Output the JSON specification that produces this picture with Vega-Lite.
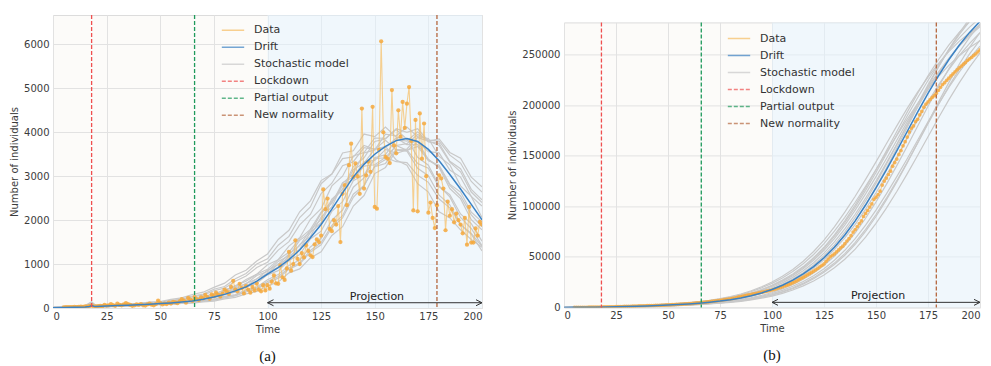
{
"$schema":"https://vega.github.io/schema/vega-lite/v6.json",
"padding":{"left":9,"top":13,"right":0,"bottom":0},
"spacing":22,
"datasets":{
"events":[{"t":18,"series":"Lockdown"},{"t":66,"series":"Partial output"},{"t":179,"series":"New normality"}],
"a_obs":[{"t":5,"v":15},{"t":6,"v":18},{"t":7,"v":20},{"t":8,"v":22},{"t":9,"v":18},{"t":10,"v":25},{"t":11,"v":20},{"t":12,"v":28},{"t":13,"v":30},{"t":14,"v":25},{"t":15,"v":35},{"t":16,"v":30},{"t":17,"v":40},{"t":18,"v":60},{"t":19,"v":30},{"t":20,"v":35},{"t":21,"v":45},{"t":22,"v":50},{"t":23,"v":40},{"t":24,"v":70},{"t":25,"v":55},{"t":26,"v":60},{"t":27,"v":90},{"t":28,"v":65},{"t":29,"v":50},{"t":30,"v":100},{"t":31,"v":70},{"t":32,"v":60},{"t":33,"v":80},{"t":34,"v":110},{"t":35,"v":90},{"t":36,"v":70},{"t":37,"v":50},{"t":38,"v":60},{"t":39,"v":80},{"t":40,"v":70},{"t":41,"v":90},{"t":42,"v":60},{"t":43,"v":55},{"t":44,"v":80},{"t":45,"v":100},{"t":46,"v":75},{"t":47,"v":60},{"t":48,"v":90},{"t":49,"v":170},{"t":50,"v":110},{"t":51,"v":80},{"t":52,"v":100},{"t":53,"v":90},{"t":54,"v":120},{"t":55,"v":100},{"t":56,"v":140},{"t":57,"v":130},{"t":58,"v":110},{"t":59,"v":150},{"t":60,"v":200},{"t":61,"v":170},{"t":62,"v":120},{"t":63,"v":230},{"t":64,"v":190},{"t":65,"v":160},{"t":66,"v":250},{"t":67,"v":200},{"t":68,"v":180},{"t":69,"v":240},{"t":70,"v":220},{"t":71,"v":300},{"t":72,"v":250},{"t":73,"v":210},{"t":74,"v":310},{"t":75,"v":270},{"t":76,"v":350},{"t":77,"v":300},{"t":78,"v":260},{"t":79,"v":330},{"t":80,"v":420},{"t":81,"v":380},{"t":82,"v":320},{"t":83,"v":480},{"t":84,"v":620},{"t":85,"v":420},{"t":86,"v":380},{"t":87,"v":550},{"t":88,"v":450},{"t":89,"v":330},{"t":90,"v":500},{"t":91,"v":420},{"t":92,"v":350},{"t":93,"v":480},{"t":94,"v":400},{"t":95,"v":560},{"t":96,"v":420},{"t":97,"v":380},{"t":98,"v":520},{"t":99,"v":400},{"t":100,"v":520},{"t":101,"v":440},{"t":102,"v":600},{"t":103,"v":740},{"t":104,"v":560},{"t":105,"v":550},{"t":106,"v":970},{"t":107,"v":700},{"t":108,"v":640},{"t":109,"v":900},{"t":110,"v":1280},{"t":111,"v":850},{"t":112,"v":1000},{"t":113,"v":1540},{"t":114,"v":1120},{"t":115,"v":1000},{"t":116,"v":1250},{"t":117,"v":1150},{"t":118,"v":1430},{"t":119,"v":1300},{"t":120,"v":1200},{"t":121,"v":1160},{"t":122,"v":1450},{"t":123,"v":1560},{"t":124,"v":1500},{"t":125,"v":1650},{"t":126,"v":2700},{"t":127,"v":2250},{"t":128,"v":2490},{"t":129,"v":1800},{"t":130,"v":1750},{"t":131,"v":2000},{"t":132,"v":1900},{"t":133,"v":2320},{"t":134,"v":1500},{"t":135,"v":2600},{"t":136,"v":2800},{"t":137,"v":2340},{"t":138,"v":3250},{"t":139,"v":3740},{"t":140,"v":2980},{"t":141,"v":3290},{"t":142,"v":3000},{"t":143,"v":2600},{"t":144,"v":4540},{"t":145,"v":2720},{"t":146,"v":3020},{"t":147,"v":3330},{"t":148,"v":3100},{"t":149,"v":4580},{"t":150,"v":2300},{"t":151,"v":2260},{"t":152,"v":3600},{"t":153,"v":6070},{"t":154,"v":4000},{"t":155,"v":3440},{"t":156,"v":3400},{"t":157,"v":3300},{"t":158,"v":4960},{"t":159,"v":3700},{"t":160,"v":3520},{"t":161,"v":4500},{"t":162,"v":3900},{"t":163,"v":4690},{"t":164,"v":4100},{"t":165,"v":4650},{"t":166,"v":5030},{"t":167,"v":3800},{"t":168,"v":2220},{"t":169,"v":4280},{"t":170,"v":2200},{"t":171,"v":4430},{"t":172,"v":3400},{"t":173,"v":4200},{"t":174,"v":3000},{"t":175,"v":2170},{"t":176,"v":2400},{"t":177,"v":2050},{"t":178,"v":1820},{"t":179,"v":2340},{"t":180,"v":3020},{"t":181,"v":2950},{"t":182,"v":2720},{"t":183,"v":1770},{"t":184,"v":2420},{"t":185,"v":2100},{"t":186,"v":2250},{"t":187,"v":1950},{"t":188,"v":2150},{"t":189,"v":2000},{"t":190,"v":1900},{"t":191,"v":1700},{"t":192,"v":2050},{"t":193,"v":1440},{"t":194,"v":2300},{"t":195,"v":1490},{"t":196,"v":1490},{"t":197,"v":1810},{"t":198,"v":1650},{"t":199,"v":1960},{"t":200,"v":1900}],
"a_drift":[{"t":0,"v":5},{"t":5,"v":10},{"t":10,"v":15},{"t":15,"v":25},{"t":17,"v":35},{"t":18,"v":55},{"t":19,"v":38},{"t":20,"v":35},{"t":25,"v":45},{"t":30,"v":55},{"t":35,"v":65},{"t":40,"v":75},{"t":45,"v":85},{"t":50,"v":100},{"t":55,"v":115},{"t":60,"v":135},{"t":65,"v":160},{"t":70,"v":200},{"t":75,"v":250},{"t":80,"v":310},{"t":85,"v":390},{"t":90,"v":480},{"t":95,"v":610},{"t":100,"v":770},{"t":105,"v":920},{"t":110,"v":1100},{"t":115,"v":1320},{"t":120,"v":1600},{"t":125,"v":1900},{"t":130,"v":2250},{"t":135,"v":2620},{"t":140,"v":2980},{"t":145,"v":3270},{"t":150,"v":3500},{"t":155,"v":3680},{"t":160,"v":3810},{"t":165,"v":3860},{"t":170,"v":3790},{"t":175,"v":3610},{"t":180,"v":3350},{"t":185,"v":3040},{"t":190,"v":2710},{"t":195,"v":2360},{"t":200,"v":2010}],
"a_sim":[
{"t":0,"s1":14,"s2":11,"s3":9,"s4":5,"s5":5,"s6":5,"s7":5,"s8":5,"s9":22,"s10":15,"s11":8,"s12":5,"s13":12,"s14":5},
{"t":5,"s1":26,"s2":14,"s3":15,"s4":12,"s5":9,"s6":6,"s7":5,"s8":5,"s9":35,"s10":28,"s11":12,"s12":5,"s13":20,"s14":9},
{"t":10,"s1":31,"s2":28,"s3":22,"s4":15,"s5":15,"s6":9,"s7":11,"s8":6,"s9":41,"s10":35,"s11":20,"s12":8,"s13":27,"s14":14},
{"t":15,"s1":47,"s2":34,"s3":35,"s4":28,"s5":23,"s6":16,"s7":13,"s8":10,"s9":55,"s10":49,"s11":30,"s12":12,"s13":38,"s14":22},
{"t":18,"s1":120,"s2":110,"s3":95,"s4":130,"s5":85,"s6":100,"s7":90,"s8":75,"s9":140,"s10":115,"s11":105,"s12":80,"s13":100,"s14":125},
{"t":20,"s1":50,"s2":48,"s3":40,"s4":36,"s5":35,"s6":27,"s7":25,"s8":16,"s9":60,"s10":56,"s11":42,"s12":20,"s13":46,"s14":33},
{"t":25,"s1":66,"s2":55,"s3":53,"s4":49,"s5":41,"s6":35,"s7":33,"s8":24,"s9":74,"s10":71,"s11":50,"s12":30,"s13":54,"s14":44},
{"t":30,"s1":70,"s2":70,"s3":58,"s4":56,"s5":54,"s6":48,"s7":45,"s8":36,"s9":78,"s10":76,"s11":60,"s12":40,"s13":62,"s14":55},
{"t":35,"s1":88,"s2":74,"s3":73,"s4":71,"s5":60,"s6":54,"s7":51,"s8":44,"s9":99,"s10":93,"s11":70,"s12":50,"s13":74,"s14":64},
{"t":40,"s1":93,"s2":92,"s3":76,"s4":76,"s5":74,"s6":69,"s7":65,"s8":57,"s9":105,"s10":101,"s11":82,"s12":62,"s13":84,"s14":78},
{"t":45,"s1":118,"s2":99,"s3":97,"s4":93,"s5":78,"s6":74,"s7":70,"s8":63,"s9":134,"s10":127,"s11":90,"s12":70,"s13":100,"s14":86},
{"t":50,"s1":127,"s2":124,"s3":103,"s4":101,"s5":99,"s6":91,"s7":85,"s8":78,"s9":146,"s10":137,"s11":110,"s12":85,"s13":112,"s14":104},
{"t":55,"s1":162,"s2":134,"s3":131,"s4":127,"s5":105,"s6":98,"s7":93,"s8":82,"s9":198,"s10":175,"s11":122,"s12":92,"s13":140,"s14":116},
{"t":60,"s1":188,"s2":172,"s3":143,"s4":137,"s5":133,"s6":122,"s7":115,"s8":104,"s9":230,"s10":203,"s11":150,"s12":112,"s13":165,"s14":142},
{"t":65,"s1":252,"s2":199,"s3":194,"s4":176,"s5":147,"s6":133,"s7":126,"s8":111,"s9":308,"s10":274,"s11":178,"s12":124,"s13":210,"s14":160},
{"t":70,"s1":292,"s2":268,"s3":224,"s4":203,"s5":197,"s6":170,"s7":160,"s8":140,"s9":360,"s10":315,"s11":226,"s12":155,"s13":250,"s14":210},
{"t":75,"s1":392,"s2":308,"s3":299,"s4":274,"s5":230,"s6":197,"s7":186,"s8":155,"s9":470,"s10":426,"s11":275,"s12":178,"s13":330,"s14":248},
{"t":80,"s1":452,"s2":418,"s3":350,"s4":315,"s5":306,"s6":265,"s7":250,"s8":208,"s9":565,"s10":489,"s11":352,"s12":232,"s13":390,"s14":330},
{"t":85,"s1":611,"s2":480,"s3":462,"s4":428,"s5":360,"s6":305,"s7":289,"s8":242,"s9":750,"s10":665,"s11":430,"s12":275,"s13":510,"s14":390},
{"t":90,"s1":728,"s2":650,"s3":548,"s4":488,"s5":472,"s6":412,"s7":388,"s8":322,"s9":860,"s10":785,"s11":560,"s12":365,"s13":610,"s14":512},
{"t":95,"s1":921,"s2":770,"s3":740,"s4":668,"s5":562,"s6":476,"s7":448,"s8":378,"s9":1070,"s10":1000,"s11":660,"s12":430,"s13":770,"s14":600},
{"t":100,"s1":1041,"s2":985,"s3":830,"s4":782,"s5":755,"s6":645,"s7":605,"s8":500,"s9":1230,"s10":1120,"s11":860,"s12":570,"s13":880,"s14":800},
{"t":105,"s1":1318,"s2":1100,"s3":1060,"s4":1005,"s5":850,"s6":760,"s7":715,"s8":590,"s9":1560,"s10":1430,"s11":990,"s12":680,"s13":1100,"s14":930},
{"t":110,"s1":1510,"s2":1410,"s3":1190,"s4":1120,"s5":1080,"s6":970,"s7":912,"s8":800,"s9":1770,"s10":1630,"s11":1230,"s12":880,"s13":1270,"s14":1180},
{"t":115,"s1":1892,"s2":1600,"s3":1540,"s4":1440,"s5":1215,"s6":1090,"s7":1025,"s8":890,"s9":2190,"s10":2060,"s11":1420,"s12":1000,"s13":1580,"s14":1340},
{"t":120,"s1":2130,"s2":2020,"s3":1720,"s4":1630,"s5":1570,"s6":1390,"s7":1310,"s8":1140,"s9":2440,"s10":2300,"s11":1780,"s12":1270,"s13":1790,"s14":1720},
{"t":125,"s1":2605,"s2":2260,"s3":2160,"s4":2070,"s5":1750,"s6":1580,"s7":1490,"s8":1280,"s9":2900,"s10":2830,"s11":2010,"s12":1440,"s13":2180,"s14":1940},
{"t":130,"s1":2840,"s2":2780,"s3":2380,"s4":2300,"s5":2200,"s6":2000,"s7":1880,"s8":1650,"s9":3050,"s10":3050,"s11":2480,"s12":1830,"s13":2420,"s14":2440},
{"t":135,"s1":3240,"s2":3000,"s3":2850,"s4":2840,"s5":2420,"s6":2230,"s7":2100,"s8":1850,"s9":3400,"s10":3530,"s11":2700,"s12":2050,"s13":2780,"s14":2700},
{"t":140,"s1":3330,"s2":3460,"s3":2980,"s4":3060,"s5":2900,"s6":2750,"s7":2590,"s8":2320,"s9":3440,"s10":3580,"s11":3150,"s12":2520,"s13":2930,"s14":3220},
{"t":145,"s1":3650,"s2":3540,"s3":3330,"s4":3530,"s5":3030,"s6":2960,"s7":2790,"s8":2560,"s9":3700,"s10":3960,"s11":3300,"s12":2780,"s13":3230,"s14":3420},
{"t":150,"s1":3610,"s2":3870,"s3":3360,"s4":3600,"s5":3400,"s6":3420,"s7":3220,"s8":3060,"s9":3610,"s10":3900,"s11":3620,"s12":3230,"s13":3260,"s14":3790},
{"t":155,"s1":3820,"s2":3860,"s3":3610,"s4":3960,"s5":3420,"s6":3490,"s7":3290,"s8":3200,"s9":3680,"s10":4120,"s11":3650,"s12":3380,"s13":3430,"s14":3850},
{"t":160,"s1":3600,"s2":4060,"s3":3520,"s4":3920,"s5":3700,"s6":3840,"s7":3610,"s8":3580,"s9":3370,"s10":3890,"s11":3870,"s12":3700,"s13":3330,"s14":4080},
{"t":165,"s1":3570,"s2":3840,"s3":3600,"s4":4120,"s5":3590,"s6":3800,"s7":3580,"s8":3620,"s9":3250,"s10":3850,"s11":3720,"s12":3740,"s13":3310,"s14":4000},
{"t":170,"s1":3180,"s2":3790,"s3":3290,"s4":3900,"s5":3680,"s6":4010,"s7":3780,"s8":3880,"s9":2830,"s10":3430,"s11":3720,"s12":3950,"s13":3020,"s14":4080},
{"t":175,"s1":3010,"s2":3380,"s3":3180,"s4":3860,"s5":3350,"s6":3780,"s7":3560,"s8":3800,"s9":2640,"s10":3250,"s11":3380,"s12":3820,"s13":2860,"s14":3800},
{"t":180,"s1":2570,"s2":3200,"s3":2760,"s4":3450,"s5":3250,"s6":3750,"s7":3530,"s8":3850,"s9":2190,"s10":2780,"s11":3220,"s12":3800,"s13":2480,"s14":3700},
{"t":185,"s1":2350,"s2":2720,"s3":2580,"s4":3260,"s5":2820,"s6":3340,"s7":3140,"s8":3540,"s9":2050,"s10":2530,"s11":2790,"s12":3480,"s13":2280,"s14":3320},
{"t":190,"s1":1890,"s2":2490,"s3":2140,"s4":2780,"s5":2640,"s6":3170,"s7":2980,"s8":3410,"s9":1780,"s10":2060,"s11":2550,"s12":3300,"s13":1900,"s14":3100},
{"t":195,"s1":1680,"s2":2010,"s3":1920,"s4":2540,"s5":2180,"s6":2700,"s7":2540,"s8":2980,"s9":1560,"s10":1810,"s11":2120,"s12":2880,"s13":1700,"s14":2640},
{"t":200,"s1":1300,"s2":1780,"s3":1520,"s4":2060,"s5":1960,"s6":2460,"s7":2320,"s8":2760,"s9":1380,"s10":1420,"s11":1850,"s12":2640,"s13":1400,"s14":2400}],
"b_obs":[{"t":5,"v":20},{"t":6,"v":35},{"t":7,"v":55},{"t":8,"v":75},{"t":9,"v":95},{"t":10,"v":120},{"t":11,"v":140},{"t":12,"v":170},{"t":13,"v":195},{"t":14,"v":220},{"t":15,"v":250},{"t":16,"v":285},{"t":17,"v":320},{"t":18,"v":380},{"t":19,"v":400},{"t":20,"v":420},{"t":21,"v":465},{"t":22,"v":510},{"t":23,"v":555},{"t":24,"v":610},{"t":25,"v":650},{"t":26,"v":710},{"t":27,"v":790},{"t":28,"v":850},{"t":29,"v":900},{"t":30,"v":960},{"t":31,"v":1030},{"t":32,"v":1100},{"t":33,"v":1170},{"t":34,"v":1260},{"t":35,"v":1330},{"t":36,"v":1400},{"t":37,"v":1450},{"t":38,"v":1510},{"t":39,"v":1590},{"t":40,"v":1670},{"t":41,"v":1750},{"t":42,"v":1810},{"t":43,"v":1860},{"t":44,"v":1940},{"t":45,"v":2040},{"t":46,"v":2110},{"t":47,"v":2170},{"t":48,"v":2260},{"t":49,"v":2430},{"t":50,"v":2520},{"t":51,"v":2600},{"t":52,"v":2700},{"t":53,"v":2790},{"t":54,"v":2910},{"t":55,"v":3040},{"t":56,"v":3150},{"t":57,"v":3280},{"t":58,"v":3390},{"t":59,"v":3520},{"t":60,"v":3680},{"t":61,"v":3850},{"t":62,"v":3970},{"t":63,"v":4200},{"t":64,"v":4390},{"t":65,"v":4570},{"t":66,"v":4800},{"t":67,"v":5000},{"t":68,"v":5180},{"t":69,"v":5420},{"t":70,"v":5640},{"t":71,"v":5940},{"t":72,"v":6190},{"t":73,"v":6400},{"t":74,"v":6710},{"t":75,"v":6950},{"t":76,"v":7300},{"t":77,"v":7600},{"t":78,"v":7860},{"t":79,"v":8190},{"t":80,"v":8500},{"t":81,"v":8900},{"t":82,"v":9250},{"t":83,"v":9700},{"t":84,"v":10300},{"t":85,"v":10700},{"t":86,"v":11100},{"t":87,"v":11650},{"t":88,"v":12100},{"t":89,"v":12450},{"t":90,"v":12900},{"t":91,"v":13300},{"t":92,"v":13650},{"t":93,"v":14100},{"t":94,"v":14500},{"t":95,"v":15000},{"t":96,"v":15400},{"t":97,"v":15800},{"t":98,"v":16300},{"t":99,"v":16700},{"t":100,"v":17300},{"t":101,"v":17800},{"t":102,"v":18400},{"t":103,"v":19100},{"t":104,"v":19700},{"t":105,"v":20400},{"t":106,"v":21200},{"t":107,"v":21900},{"t":108,"v":22600},{"t":109,"v":23500},{"t":110,"v":24400},{"t":111,"v":25300},{"t":112,"v":26300},{"t":113,"v":27500},{"t":114,"v":28600},{"t":115,"v":29800},{"t":116,"v":31000},{"t":117,"v":32200},{"t":118,"v":33300},{"t":119,"v":34600},{"t":120,"v":35900},{"t":121,"v":37200},{"t":122,"v":38600},{"t":123,"v":40100},{"t":124,"v":41500},{"t":125,"v":43000},{"t":126,"v":45600},{"t":127,"v":47800},{"t":128,"v":50000},{"t":129,"v":51600},{"t":130,"v":53000},{"t":131,"v":55000},{"t":132,"v":56900},{"t":133,"v":59000},{"t":134,"v":60600},{"t":135,"v":63000},{"t":136,"v":65700},{"t":137,"v":68000},{"t":138,"v":71000},{"t":139,"v":74500},{"t":140,"v":77000},{"t":141,"v":80000},{"t":142,"v":83000},{"t":143,"v":85500},{"t":144,"v":90000},{"t":145,"v":93000},{"t":146,"v":96000},{"t":147,"v":99300},{"t":148,"v":102400},{"t":149,"v":107000},{"t":150,"v":109000},{"t":151,"v":111500},{"t":152,"v":115000},{"t":153,"v":121000},{"t":154,"v":125000},{"t":155,"v":128000},{"t":156,"v":131500},{"t":157,"v":134800},{"t":158,"v":139700},{"t":159,"v":143300},{"t":160,"v":146800},{"t":161,"v":151300},{"t":162,"v":155200},{"t":163,"v":159900},{"t":164,"v":164000},{"t":165,"v":168600},{"t":166,"v":173600},{"t":167,"v":177400},{"t":168,"v":179600},{"t":169,"v":183900},{"t":170,"v":186100},{"t":171,"v":190500},{"t":172,"v":193900},{"t":173,"v":198100},{"t":174,"v":201100},{"t":175,"v":203300},{"t":176,"v":205700},{"t":177,"v":207700},{"t":178,"v":209500},{"t":179,"v":211800},{"t":180,"v":214800},{"t":181,"v":217800},{"t":182,"v":220500},{"t":183,"v":222300},{"t":184,"v":224700},{"t":185,"v":226800},{"t":186,"v":229000},{"t":187,"v":231000},{"t":188,"v":233100},{"t":189,"v":235100},{"t":190,"v":237000},{"t":191,"v":238700},{"t":192,"v":240700},{"t":193,"v":242200},{"t":194,"v":244500},{"t":195,"v":246000},{"t":196,"v":247500},{"t":197,"v":249300},{"t":198,"v":250900},{"t":199,"v":252900},{"t":200,"v":254800}],
"b_drift":[{"t":0,"v":0},{"t":5,"v":38},{"t":10,"v":100},{"t":15,"v":200},{"t":20,"v":350},{"t":25,"v":550},{"t":30,"v":800},{"t":35,"v":1100},{"t":40,"v":1450},{"t":45,"v":1850},{"t":50,"v":2312},{"t":55,"v":2850},{"t":60,"v":3475},{"t":65,"v":4212},{"t":70,"v":5112},{"t":75,"v":6237},{"t":80,"v":7637},{"t":85,"v":9387},{"t":90,"v":11562},{"t":95,"v":14287},{"t":100,"v":17737},{"t":105,"v":21962},{"t":110,"v":27012},{"t":115,"v":33062},{"t":120,"v":40362},{"t":125,"v":49112},{"t":130,"v":59487},{"t":135,"v":71662},{"t":140,"v":85662},{"t":145,"v":101287},{"t":150,"v":118212},{"t":155,"v":136162},{"t":160,"v":154887},{"t":165,"v":174062},{"t":170,"v":193187},{"t":175,"v":211687},{"t":180,"v":229087},{"t":185,"v":245062},{"t":190,"v":259437},{"t":195,"v":272112},{"t":200,"v":283037}],
"b_sim":[
{"t":0,"g1":93,"g2":38,"g3":36,"g4":0,"g5":0,"g6":0,"g7":0,"g8":0,"g9":37,"g10":0,"g11":22,"g12":0,"g13":88,"g14":0},
{"t":5,"g1":186,"g2":100,"g3":95,"g4":40,"g5":36,"g6":0,"g7":0,"g8":0,"g9":98,"g10":0,"g11":73,"g12":0,"g13":176,"g14":24},
{"t":10,"g1":326,"g2":200,"g3":190,"g4":104,"g5":96,"g6":39,"g7":36,"g8":0,"g9":196,"g10":0,"g11":155,"g12":15,"g13":308,"g14":80},
{"t":15,"g1":512,"g2":350,"g3":333,"g4":208,"g5":192,"g6":103,"g7":95,"g8":37,"g9":343,"g10":40,"g11":281,"g12":63,"g13":484,"g14":171},
{"t":20,"g1":744,"g2":550,"g3":523,"g4":364,"g5":336,"g6":206,"g7":190,"g8":97,"g9":539,"g10":105,"g11":456,"g12":140,"g13":704,"g14":310},
{"t":25,"g1":1023,"g2":800,"g3":760,"g4":572,"g5":528,"g6":361,"g7":333,"g8":194,"g9":784,"g10":210,"g11":679,"g12":260,"g13":968,"g14":503},
{"t":30,"g1":1349,"g2":1100,"g3":1045,"g4":832,"g5":768,"g6":567,"g7":523,"g8":340,"g9":1078,"g10":368,"g11":951,"g12":430,"g13":1276,"g14":749},
{"t":35,"g1":1721,"g2":1450,"g3":1378,"g4":1144,"g5":1056,"g6":824,"g7":760,"g8":534,"g9":1421,"g10":578,"g11":1271,"g12":650,"g13":1628,"g14":1049},
{"t":40,"g1":2150,"g2":1850,"g3":1758,"g4":1508,"g5":1392,"g6":1133,"g7":1045,"g8":776,"g9":1813,"g10":840,"g11":1639,"g12":920,"g13":2035,"g14":1402},
{"t":45,"g1":2651,"g2":2312,"g3":2196,"g4":1924,"g5":1776,"g6":1494,"g7":1378,"g8":1067,"g9":2266,"g10":1155,"g11":2063,"g12":1240,"g13":2508,"g14":1808},
{"t":50,"g1":3232,"g2":2850,"g3":2708,"g4":2404,"g5":2220,"g6":1906,"g7":1758,"g8":1407,"g9":2793,"g10":1523,"g11":2556,"g12":1610,"g13":3058,"g14":2276},
{"t":55,"g1":3917,"g2":3475,"g3":3301,"g4":2964,"g5":2736,"g6":2381,"g7":2196,"g8":1795,"g9":3406,"g10":1943,"g11":3128,"g12":2035,"g13":3707,"g14":2819},
{"t":60,"g1":4754,"g2":4212,"g3":4001,"g4":3614,"g5":3336,"g6":2936,"g7":2708,"g8":2243,"g9":4128,"g10":2428,"g11":3799,"g12":2527,"g13":4499,"g14":3451},
{"t":65,"g1":5800,"g2":5112,"g3":4856,"g4":4380,"g5":4044,"g6":3579,"g7":3301,"g8":2765,"g9":5010,"g10":2993,"g11":4609,"g12":3100,"g13":5489,"g14":4191},
{"t":70,"g1":7102,"g2":6237,"g3":5925,"g4":5316,"g5":4908,"g6":4338,"g7":4001,"g8":3371,"g9":6112,"g10":3649,"g11":5613,"g12":3770,"g13":6721,"g14":5085},
{"t":75,"g1":8730,"g2":7637,"g3":7255,"g4":6486,"g5":5988,"g6":5265,"g7":4856,"g8":4086,"g9":7484,"g10":4423,"g11":6865,"g12":4572,"g13":8261,"g14":6192},
{"t":80,"g1":10753,"g2":9387,"g3":8918,"g4":7942,"g5":7332,"g6":6424,"g7":5925,"g8":4959,"g9":9199,"g10":5368,"g11":8426,"g12":5562,"g13":10175,"g14":7572},
{"t":85,"g1":13287,"g2":11562,"g3":10984,"g4":9762,"g5":9012,"g6":7866,"g7":7255,"g8":6050,"g9":11331,"g10":6549,"g11":10371,"g12":6797,"g13":12573,"g14":9295},
{"t":90,"g1":16495,"g2":14287,"g3":13573,"g4":12024,"g5":11100,"g6":9669,"g7":8918,"g8":7408,"g9":14001,"g10":8019,"g11":12801,"g12":8337,"g13":15609,"g14":11440},
{"t":95,"g1":20425,"g2":17737,"g3":16850,"g4":14858,"g5":13716,"g6":11909,"g7":10984,"g8":9105,"g9":17382,"g10":9855,"g11":15866,"g12":10257,"g13":19327,"g14":14121},
{"t":100,"g1":25121,"g2":21962,"g3":20864,"g4":18446,"g5":17028,"g6":14716,"g7":13573,"g8":11215,"g9":21523,"g10":12140,"g11":19664,"g12":12652,"g13":23771,"g14":17502},
{"t":105,"g1":30748,"g2":27012,"g3":25661,"g4":22840,"g5":21084,"g6":18269,"g7":16850,"g8":13858,"g9":26472,"g10":15001,"g11":24242,"g12":15667,"g13":29095,"g14":21691},
{"t":110,"g1":37537,"g2":33062,"g3":31409,"g4":28092,"g5":25932,"g6":22621,"g7":20864,"g8":17205,"g9":32401,"g10":18624,"g11":29723,"g12":19427,"g13":35519,"g14":26741},
{"t":115,"g1":45674,"g2":40362,"g3":38344,"g4":34384,"g5":31740,"g6":27822,"g7":25661,"g8":21303,"g9":39555,"g10":23060,"g11":36319,"g12":23982,"g13":43219,"g14":32787},
{"t":120,"g1":55323,"g2":49112,"g3":46656,"g4":41976,"g5":38748,"g6":34054,"g7":31409,"g8":26202,"g9":48130,"g10":28363,"g11":44244,"g12":29432,"g13":52349,"g14":40063},
{"t":125,"g1":66646,"g2":59487,"g3":56513,"g4":51076,"g5":47148,"g6":41573,"g7":38344,"g8":32070,"g9":58297,"g10":34716,"g11":53677,"g12":35982,"g13":63063,"g14":48805},
{"t":130,"g1":79666,"g2":71662,"g3":68079,"g4":61866,"g5":57108,"g6":50585,"g7":46656,"g8":39151,"g9":70229,"g10":42380,"g11":64788,"g12":43862,"g13":75383,"g14":59211},
{"t":135,"g1":94197,"g2":85662,"g3":81379,"g4":74528,"g5":68796,"g6":61272,"g7":56513,"g8":47639,"g9":83949,"g10":51568,"g11":77660,"g12":53262,"g13":89133,"g14":71467},
{"t":140,"g1":109937,"g2":101287,"g3":96223,"g4":89088,"g5":82236,"g6":73812,"g7":68079,"g8":57702,"g9":99261,"g10":62463,"g11":92186,"g12":64357,"g13":104027,"g14":85666},
{"t":145,"g1":126631,"g2":118212,"g3":112301,"g4":105338,"g5":97236,"g6":88232,"g7":81379,"g8":69512,"g9":115848,"g10":75246,"g11":108099,"g12":77262,"g13":119823,"g14":101690},
{"t":150,"g1":144045,"g2":136162,"g3":129354,"g4":122940,"g5":113484,"g6":104326,"g7":96223,"g8":83092,"g9":133439,"g10":89946,"g11":125113,"g12":91912,"g13":136301,"g14":119243},
{"t":155,"g1":161878,"g2":154887,"g3":147143,"g4":141608,"g5":130716,"g6":121758,"g7":112301,"g8":98248,"g9":151789,"g10":106351,"g11":142975,"g12":108057,"g13":153175,"g14":138011},
{"t":160,"g1":179664,"g2":174062,"g3":165359,"g4":161082,"g5":148692,"g6":140247,"g7":129354,"g8":114666,"g9":170581,"g10":124125,"g11":161400,"g12":125392,"g13":170005,"g14":157715},
{"t":165,"g1":196869,"g2":193187,"g3":183528,"g4":181024,"g5":167100,"g6":159532,"g7":147143,"g8":132077,"g9":189323,"g10":142969,"g11":179971,"g12":143652,"g13":186285,"g14":178039},
{"t":170,"g1":213051,"g2":211687,"g3":201103,"g4":200914,"g5":185460,"g6":179284,"g7":165359,"g8":150240,"g9":207453,"g10":162641,"g11":198158,"g12":162557,"g13":201597,"g14":198525},
{"t":175,"g1":227908,"g2":229087,"g3":217633,"g4":220154,"g5":203220,"g6":198983,"g7":183528,"g8":168842,"g9":224505,"g10":182769,"g11":215463,"g12":181712,"g13":215655,"g14":218587},
{"t":180,"g1":241276,"g2":245062,"g3":232809,"g4":238250,"g5":219924,"g6":218038,"g7":201103,"g8":187391,"g9":240161,"g10":202849,"g11":231512,"g12":200587,"g13":228305,"g14":237676},
{"t":185,"g1":253064,"g2":259437,"g3":246465,"g4":254864,"g5":235260,"g6":235960,"g7":217633,"g8":205336,"g9":254248,"g10":222377,"g11":246076,"g12":218647,"g13":239459,"g14":255379},
{"t":190,"g1":263224,"g2":272112,"g3":258506,"g4":269814,"g5":249060,"g6":252416,"g7":232809,"g8":222214,"g9":266670,"g10":240545,"g11":259031,"g12":235477,"g13":249073,"g14":271445},
{"t":195,"g1":271804,"g2":283037,"g3":268885,"g4":282996,"g5":261228,"g6":267220,"g7":246465,"g8":237710,"g9":277376,"g10":257227,"g11":270307,"g12":250812,"g13":257191,"g14":285735},
{"t":200,"g1":278918,"g2":292262,"g3":277649,"g4":294358,"g5":271716,"g6":280275,"g7":258506,"g8":251640,"g9":286417,"g10":271992,"g11":279915,"g12":264507,"g13":263923,"g14":298174}]
},
"resolve":{"scale":{"color":"independent","strokeDash":"independent"},"legend":{"color":"independent","strokeDash":"independent"}},
"hconcat":[
{
"width":429,"height":293,
"title":{"text":"(a)","orient":"bottom","anchor":"middle","offset":15},
"layer":[
{"data":{"values":[{"t0":100,"t1":200}]},"mark":{"type":"rect","fill":"#e4f3ff","opacity":0.5},
 "encoding":{"x":{"field":"t0","type":"quantitative","scale":{"domain":[0,200],"nice":false,"zero":false},"axis":{"values":[0,25,50,75,100,125,150,175,200],"title":"Time","format":"d","labelPadding":3,"titlePadding":3}},"x2":{"field":"t1"}}},
{"data":{"name":"a_sim"},"transform":[{"fold":["s1","s2","s3","s4","s5","s6","s7","s8","s9","s10","s11","s12","s13","s14"],"as":["run","v"]}],
 "mark":{"type":"line","strokeWidth":1.2,"clip":true},
 "encoding":{"x":{"field":"t","type":"quantitative"},
  "y":{"field":"v","type":"quantitative","scale":{"domain":[0,6670],"nice":false},"axis":{"values":[0,1000,2000,3000,4000,5000,6000],"title":"Number of individuals","format":"d"}},
  "detail":{"field":"run","type":"nominal"},
  "color":{"datum":"Stochastic model","type":"nominal","scale":{"domain":["Data","Drift","Stochastic model","Lockdown","Partial output","New normality"],"range":["#f7bd63","#3b82c4","#c9c9c9","#ef4f4f","#1f9a5c","#b5683f"]},
   "legend":{"orient":"none","legendX":168,"legendY":7,"title":null,"symbolType":"stroke","symbolSize":500,"symbolStrokeWidth":1.5,"clipHeight":16.5,"rowPadding":0,"labelOffset":9,"padding":0,"labelFontSize":11}}}},
{"data":{"name":"a_obs"},"mark":{"type":"line","strokeWidth":1.1,"opacity":0.7,"clip":true},
 "encoding":{"x":{"field":"t","type":"quantitative"},"y":{"field":"v","type":"quantitative"},"color":{"datum":"Data","type":"nominal"}}},
{"data":{"name":"a_obs"},"mark":{"type":"point","filled":true,"size":18,"opacity":0.85,"color":"#f5a83c","clip":true},
 "encoding":{"x":{"field":"t","type":"quantitative"},"y":{"field":"v","type":"quantitative"}}},
{"data":{"name":"a_drift"},"mark":{"type":"line","strokeWidth":1.5,"clip":true},
 "encoding":{"x":{"field":"t","type":"quantitative"},"y":{"field":"v","type":"quantitative"},"color":{"datum":"Drift","type":"nominal"}}},
{"data":{"name":"events"},"mark":{"type":"rule","strokeWidth":1.3},
 "encoding":{"x":{"field":"t","type":"quantitative"},"color":{"field":"series","type":"nominal"},
  "strokeDash":{"field":"series","type":"nominal","scale":{"domain":["Data","Drift","Stochastic model","Lockdown","Partial output","New normality"],"range":[[1,0],[1,0],[1,0],[4,2],[4,2],[4,2]]},
   "legend":{"orient":"none","legendX":168,"legendY":7,"title":null,"symbolType":"stroke","symbolSize":500,"symbolStrokeWidth":1.5,"clipHeight":16.5,"rowPadding":0,"labelOffset":9,"padding":0,"labelFontSize":11}}}},
{"data":{"values":[{"t0":100,"t1":200}]},"mark":{"type":"rule","color":"#333333","strokeWidth":1},
 "encoding":{"x":{"field":"t0","type":"quantitative"},"x2":{"field":"t1"},"y":{"datum":120,"type":"quantitative"}}},
{"data":{"values":[{"t":100,"dir":"left"},{"t":200,"dir":"right"}]},"mark":{"type":"point","filled":false,"color":"#333333","strokeWidth":1,"size":36,"opacity":1},
 "encoding":{"x":{"field":"t","type":"quantitative"},"y":{"datum":120,"type":"quantitative"},
  "shape":{"field":"dir","type":"nominal","scale":{"domain":["left","right"],"range":["M2,-1L0,0L2,1","M-2,-1L0,0L-2,1"]},"legend":null}}},
{"data":{"values":[{"label":"Projection"}]},"mark":{"type":"text","baseline":"bottom","dy":-1,"fontSize":11,"color":"#222222"},
 "encoding":{"x":{"datum":151,"type":"quantitative"},"y":{"datum":120,"type":"quantitative"},"text":{"field":"label"}}}
]
},
{
"spacing":4.4,
"vconcat":[
{"width":416,"height":1,"data":{"values":[]},"mark":{"type":"point","opacity":0},"view":{"fill":null,"stroke":null}},
{
"width":416,"height":285,
"title":{"text":"(b)","orient":"bottom","anchor":"middle","offset":15},
"layer":[
{"data":{"values":[{"t0":100,"t1":200}]},"mark":{"type":"rect","fill":"#e4f3ff","opacity":0.5},
 "encoding":{"x":{"field":"t0","type":"quantitative","scale":{"domain":[0,200],"nice":false,"zero":false},"axis":{"values":[0,25,50,75,100,125,150,175,200],"title":"Time","format":"d","labelPadding":3,"titlePadding":3}},"x2":{"field":"t1"}}},
{"data":{"name":"b_sim"},"transform":[{"fold":["g1","g2","g3","g4","g5","g6","g7","g8","g9","g10","g11","g12","g13","g14"],"as":["run","v"]}],
 "mark":{"type":"line","strokeWidth":1.2,"clip":true},
 "encoding":{"x":{"field":"t","type":"quantitative"},
  "y":{"field":"v","type":"quantitative","scale":{"domain":[0,282000],"nice":false},"axis":{"values":[0,50000,100000,150000,200000,250000],"title":"Number of individuals","format":"d"}},
  "detail":{"field":"run","type":"nominal"},
  "color":{"datum":"Stochastic model","type":"nominal","scale":{"domain":["Data","Drift","Stochastic model","Lockdown","Partial output","New normality"],"range":["#f7bd63","#3b82c4","#c9c9c9","#ef4f4f","#1f9a5c","#b5683f"]},
   "legend":{"orient":"none","legendX":163,"legendY":15.5,"title":null,"symbolType":"stroke","symbolSize":500,"symbolStrokeWidth":1.5,"clipHeight":16.2,"rowPadding":0,"labelOffset":9,"padding":0,"labelFontSize":11}}}},
{"data":{"name":"b_obs"},"mark":{"type":"line","strokeWidth":1.1,"opacity":0.7,"clip":true},
 "encoding":{"x":{"field":"t","type":"quantitative"},"y":{"field":"v","type":"quantitative"},"color":{"datum":"Data","type":"nominal"}}},
{"data":{"name":"b_obs"},"mark":{"type":"point","filled":true,"size":14,"opacity":0.8,"color":"#f5a83c","clip":true},
 "encoding":{"x":{"field":"t","type":"quantitative"},"y":{"field":"v","type":"quantitative"}}},
{"data":{"name":"b_drift"},"mark":{"type":"line","strokeWidth":1.5,"clip":true},
 "encoding":{"x":{"field":"t","type":"quantitative"},"y":{"field":"v","type":"quantitative"},"color":{"datum":"Drift","type":"nominal"}}},
{"data":{"name":"events"},"mark":{"type":"rule","strokeWidth":1.3},
 "encoding":{"x":{"field":"t","type":"quantitative"},"color":{"field":"series","type":"nominal"},
  "strokeDash":{"field":"series","type":"nominal","scale":{"domain":["Data","Drift","Stochastic model","Lockdown","Partial output","New normality"],"range":[[1,0],[1,0],[1,0],[4,2],[4,2],[4,2]]},
   "legend":{"orient":"none","legendX":163,"legendY":15.5,"title":null,"symbolType":"stroke","symbolSize":500,"symbolStrokeWidth":1.5,"clipHeight":16.2,"rowPadding":0,"labelOffset":9,"padding":0,"labelFontSize":11}}}},
{"data":{"values":[{"t0":100,"t1":200}]},"mark":{"type":"rule","color":"#333333","strokeWidth":1},
 "encoding":{"x":{"field":"t0","type":"quantitative"},"x2":{"field":"t1"},"y":{"datum":5000,"type":"quantitative"}}},
{"data":{"values":[{"t":100,"dir":"left"},{"t":200,"dir":"right"}]},"mark":{"type":"point","filled":false,"color":"#333333","strokeWidth":1,"size":36,"opacity":1},
 "encoding":{"x":{"field":"t","type":"quantitative"},"y":{"datum":5000,"type":"quantitative"},
  "shape":{"field":"dir","type":"nominal","scale":{"domain":["left","right"],"range":["M2,-1L0,0L2,1","M-2,-1L0,0L-2,1"]},"legend":null}}},
{"data":{"values":[{"label":"Projection"}]},"mark":{"type":"text","baseline":"bottom","dy":-1,"fontSize":11,"color":"#222222"},
 "encoding":{"x":{"datum":151,"type":"quantitative"},"y":{"datum":5000,"type":"quantitative"},"text":{"field":"label"}}}
]
}
]
}
],
"config":{
"font":"DejaVu Sans",
"view":{"fill":"#fcfbf9","stroke":"#dcdcdc","strokeWidth":1},
"axis":{"domain":false,"ticks":false,"gridColor":"#e2e2e2","gridWidth":1,"labelFont":"DejaVu Sans","labelFontSize":10,"labelColor":"#3c3c3c","labelPadding":4,"titleFont":"DejaVu Sans","titleFontSize":10,"titleFontWeight":"normal","titleColor":"#3c3c3c","titlePadding":4},
"legend":{"labelFont":"DejaVu Sans","labelFontSize":11,"labelColor":"#333333"},
"title":{"font":"Liberation Serif","fontSize":15,"fontWeight":"normal","color":"#111111"}
}
}
